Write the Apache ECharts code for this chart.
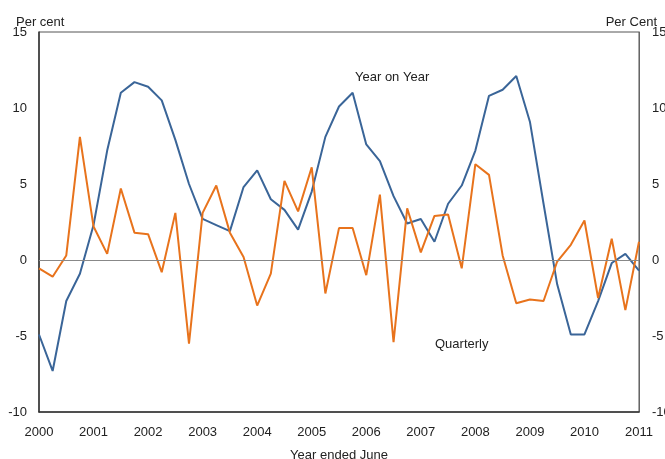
<!DOCTYPE html>
<html>
<head>
<meta charset="utf-8">
<script src="https://cdn.jsdelivr.net/npm/echarts@6/dist/echarts.min.js"></script>
<style>
  html, body { margin: 0; padding: 0; background: #fff; }
  #main { width: 665px; height: 459px; }
</style>
</head>
<body>
<div id="main"></div>
<script>
// quarters, year ended June
var months = ['Jun', 'Sep', 'Dec', 'Mar'];
var quarters = [];
for (var i = 0; i < 45; i++) {
    var yr = 2000 + Math.ceil(i / 4);
    quarters.push(months[i % 4] + ' ' + yr);
}
var yearLabels = ['2000','2001','2002','2003','2004','2005','2006','2007','2008','2009','2010','2011'];
var yTicks = [-10, -5, 0, 5, 10, 15];

// year on year, per cent
var yearOnYear = [-4.9, -7.3, -2.7, -0.9, 2.3, 7.2, 11.0, 11.7, 11.4, 10.5,
    7.9, 5.0, 2.7, 2.3, 1.9, 4.8, 5.9, 4.0, 3.3, 2.0,
    4.5, 8.1, 10.1, 11.0, 7.6, 6.5, 4.2, 2.4, 2.7, 1.2,
    3.7, 4.9, 7.2, 10.8, 11.2, 12.1, 9.1, 3.7, -1.6, -4.9,
    -4.9, -2.7, -0.2, 0.4, -0.7];
// quarterly, per cent
var quarterly = [-0.55, -1.1, 0.3, 8.1, 2.2, 0.4, 4.7, 1.8, 1.7, -0.8,
    3.1, -5.5, 3.1, 4.9, 1.8, 0.2, -3.0, -0.9, 5.2, 3.2,
    6.1, -2.2, 2.1, 2.1, -1.0, 4.3, -5.4, 3.4, 0.5, 2.9,
    3.0, -0.55, 6.3, 5.6, 0.3, -2.85, -2.6, -2.7, -0.1, 1.0,
    2.6, -2.5, 1.4, -3.3, 1.2];

var myChart = echarts.init(document.getElementById('main'));
var font = 'Liberation Sans, Arial, sans-serif';
var option = {
    animation: false,
    textStyle: { fontFamily: font },
    grid: {
        left: 39, right: 26, top: 32, bottom: 47,
        outerBoundsMode: 'none',
        containLabel: false,
        show: true, borderColor: '#555', borderWidth: 1
    },
    title: [
        { text: 'Per cent', left: 11, top: 11, textStyle: { fontSize: 13, fontWeight: 'normal', color: '#222', fontFamily: font } },
        { text: 'Per Cent', right: 3, top: 11, textStyle: { fontSize: 13, fontWeight: 'normal', color: '#222', fontFamily: font } }
    ],
    xAxis: {
        type: 'category',
        data: quarters,
        boundaryGap: false,
        name: 'Year ended June',
        nameLocation: 'middle',
        nameGap: 37,
        nameTextStyle: { fontSize: 13, color: '#222' },
        axisLine: { onZero: false, lineStyle: { color: '#333', width: 1.5 } },
        axisTick: { show: false },
        splitLine: { show: false },
        axisLabel: {
            interval: 3,
            margin: 14,
            fontSize: 13,
            color: '#222',
            formatter: function (v, idx) { return yearLabels[idx / 4]; }
        }
    },
    yAxis: [{
        type: 'value', min: yTicks[0], max: yTicks[yTicks.length - 1], interval: 5,
        axisLine: { show: true, lineStyle: { color: '#333', width: 1.5 } },
        axisTick: { show: false },
        splitLine: { show: false },
        axisLabel: { fontSize: 13, color: '#222', margin: 12, align: 'right' }
    }, {
        type: 'value', min: yTicks[0], max: yTicks[yTicks.length - 1], interval: 5,
        position: 'right',
        axisLine: { show: true, lineStyle: { color: '#666', width: 1 } },
        axisTick: { show: false },
        splitLine: { show: false },
        axisLabel: { fontSize: 13, color: '#222', margin: 13, align: 'left' }
    }],
    series: [{
        name: 'Year on Year',
        type: 'line',
        data: yearOnYear,
        symbol: 'none',
        lineStyle: { color: '#3a6598', width: 2 },
        itemStyle: { color: '#3a6598' },
        markLine: {
            silent: true,
            symbol: 'none',
            label: { show: false },
            lineStyle: { color: '#888', width: 1, type: 'solid' },
            data: [{ yAxis: 0 }]
        }
    }, {
        name: 'Quarterly',
        type: 'line',
        data: quarterly,
        symbol: 'none',
        lineStyle: { color: '#e8731c', width: 2 },
        itemStyle: { color: '#e8731c' }
    }],
    graphic: [
        { type: 'text', left: 355, top: 71, style: { text: 'Year on Year', fill: '#222', font: '13px ' + font } },
        { type: 'text', left: 435, top: 338, style: { text: 'Quarterly', fill: '#222', font: '13px ' + font } }
    ]
};
myChart.setOption(option);
</script>
</body>
</html>
